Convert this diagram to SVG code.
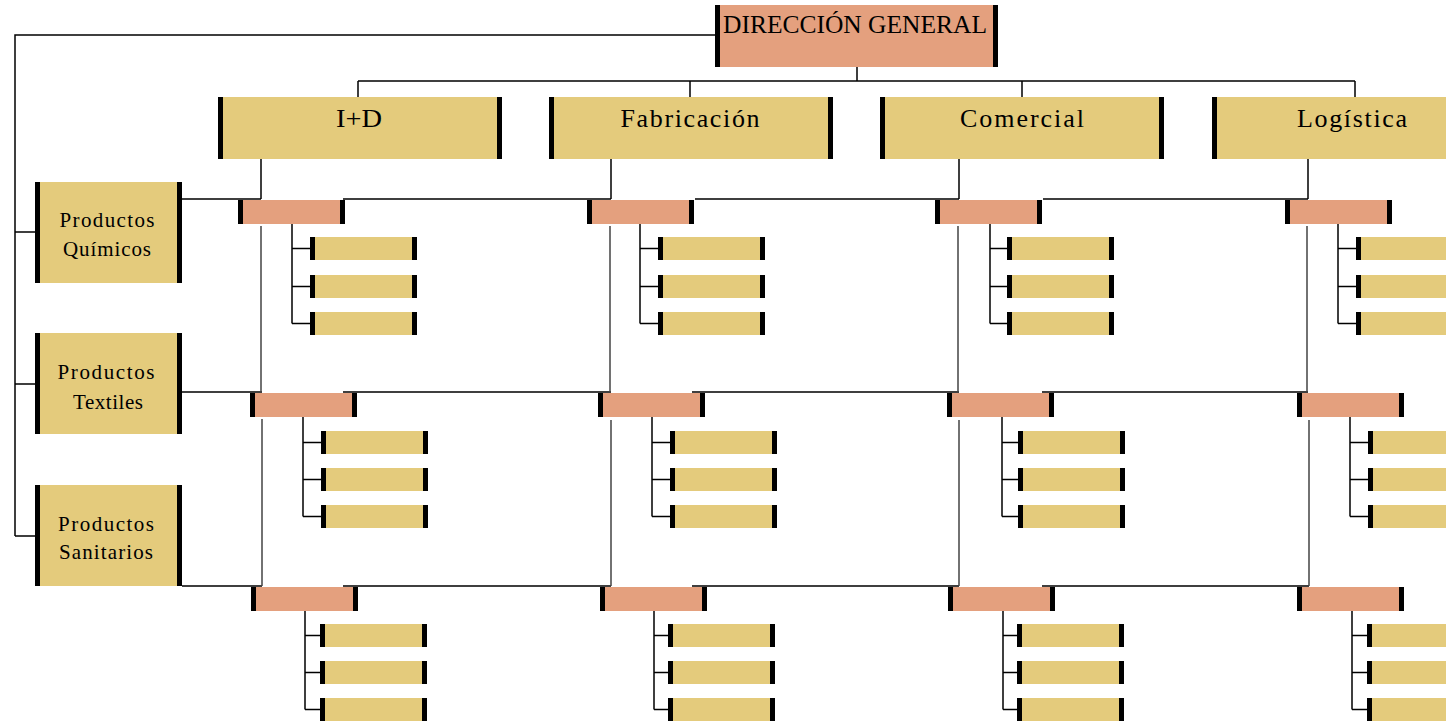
<svg xmlns="http://www.w3.org/2000/svg" xmlns:xlink="http://www.w3.org/1999/xlink" width="1446" height="726" viewBox="0 0 1446 726">
  <style>
    .gold { fill: #e4cb7c; }
    .salmon { fill: #e4a07e; }
    .bar { fill: #000; }
    .ln { fill: none; stroke: #000; stroke-width: 1.5; }
    .ln2 { fill: none; stroke: #444; stroke-width: 1.5; }
    .t { font-family: "Liberation Serif", "DejaVu Serif", serif; fill: #000; text-anchor: middle; }
    .t1 { font-size: 25px; }
    .t2 { font-size: 26px; }
    .t3 { font-size: 21px; }
  </style>
  <defs>
    <!-- small gold unit box with end bars -->
    <g id="sub">
      <rect class="gold" x="0" y="0" width="107" height="23"/>
      <rect class="bar" x="0" y="0" width="5" height="23"/>
      <rect class="bar" x="102" y="0" width="5" height="23"/>
    </g>
    <!-- salmon cross-point box -->
    <g id="mid">
      <rect class="salmon" x="0" y="0" width="107" height="24"/>
      <rect class="bar" x="0" y="0" width="5" height="24"/>
      <rect class="bar" x="102" y="0" width="5" height="24"/>
    </g>
    <!-- department box -->
    <g id="dept">
      <rect class="gold" x="0" y="0" width="284" height="62"/>
      <rect class="bar" x="0" y="0" width="5" height="62"/>
      <rect class="bar" x="279" y="0" width="5" height="62"/>
    </g>
    <!-- product line box -->
    <g id="prod">
      <rect class="gold" x="0" y="0" width="147" height="101"/>
      <rect class="bar" x="0" y="0" width="5" height="101"/>
      <rect class="bar" x="142" y="0" width="5" height="101"/>
    </g>
  </defs>

  <rect width="1446" height="726" fill="#fff"/>

  <g id="connectors">
    <!-- top level -->
    <path class="ln" d="M857 67 V81 M358 81 H1355 M358 81 V97 M690 81 V97 M1022 81 V97 M1355 81 V97"/>
    <path class="ln" d="M715 35 H15 V536 M15 232 H37 M15 384 H37 M15 536 H37"/>
    <!-- department stubs -->
    <path class="ln" d="M261 159 V199 M611 159 V199 M959 159 V199 M1308 159 V199"/>
    <!-- product rows -->
    <path class="ln" d="M182 199 H261 M343 199 H611 M695 199 H959 M1043 199 H1308"/>
    <path class="ln" d="M182 392 H262 M343 392 H611 M692 392 H959 M1042 392 H1308"/>
    <path class="ln" d="M182 586 H262 M343 586 H611 M692 586 H959 M1042 586 H1309"/>
    <!-- column verticals between rows -->
    <path class="ln2" d="M261 226 V392 M262 419 V586 M610 226 V392 M611 420 V586 M958 226 V392 M959 420 V586 M1307 226 V392 M1309 420 V586"/>
    <!-- sub-unit brackets, row 1 -->
    <path class="ln" d="M292 223 V323.5 M292 248.5 H312 M292 286.5 H312 M292 323.5 H312"/>
    <path class="ln" d="M640 223 V323.5 M640 248.5 H660 M640 286.5 H660 M640 323.5 H660"/>
    <path class="ln" d="M990 223 V323.5 M990 248.5 H1009 M990 286.5 H1009 M990 323.5 H1009"/>
    <path class="ln" d="M1338 223 V323.5 M1338 248.5 H1358 M1338 286.5 H1358 M1338 323.5 H1358"/>
    <!-- sub-unit brackets, row 2 -->
    <path class="ln" d="M303 417 V516.5 M303 442.5 H323 M303 479.5 H323 M303 516.5 H323"/>
    <path class="ln" d="M652 417 V516.5 M652 442.5 H672 M652 479.5 H672 M652 516.5 H672"/>
    <path class="ln" d="M1002 417 V516.5 M1002 442.5 H1020 M1002 479.5 H1020 M1002 516.5 H1020"/>
    <path class="ln" d="M1350 417 V516.5 M1350 442.5 H1370 M1350 479.5 H1370 M1350 516.5 H1370"/>
    <!-- sub-unit brackets, row 3 -->
    <path class="ln" d="M305 611 V709.5 M305 635.5 H322 M305 672.5 H322 M305 709.5 H322"/>
    <path class="ln" d="M654 611 V709.5 M654 635.5 H670 M654 672.5 H670 M654 709.5 H670"/>
    <path class="ln" d="M1003 611 V709.5 M1003 635.5 H1019 M1003 672.5 H1019 M1003 709.5 H1019"/>
    <path class="ln" d="M1352 611 V709.5 M1352 635.5 H1369 M1352 672.5 H1369 M1352 709.5 H1369"/>
  </g>

  <g id="direccion-general">
    <rect class="salmon" x="715" y="5" width="283" height="62"/>
    <rect class="bar" x="715" y="5" width="5" height="62"/>
    <rect class="bar" x="993" y="5" width="5" height="62"/>
    <text class="t t1" x="855" y="33" textLength="264" lengthAdjust="spacingAndGlyphs">DIRECCIÓN GENERAL</text>
  </g>

  <g id="dept-id">
    <use xlink:href="#dept" x="218" y="97"/>
    <text class="t t2" x="359" y="127" textLength="46" lengthAdjust="spacingAndGlyphs">I+D</text>
  </g>
  <g id="dept-fabricacion">
    <use xlink:href="#dept" x="549" y="97"/>
    <text class="t t2" x="690" y="127" textLength="139" lengthAdjust="spacing">Fabricación</text>
  </g>
  <g id="dept-comercial">
    <use xlink:href="#dept" x="880" y="97"/>
    <text class="t t2" x="1022" y="127" textLength="124" lengthAdjust="spacing">Comercial</text>
  </g>
  <g id="dept-logistica">
    <use xlink:href="#dept" x="1212" y="97"/>
    <text class="t t2" x="1352" y="127" textLength="110" lengthAdjust="spacing">Logística</text>
  </g>

  <g id="prod-quimicos">
    <use xlink:href="#prod" x="35" y="182"/>
    <text class="t t3" x="107" y="227" textLength="95" lengthAdjust="spacing">Productos</text>
    <text class="t t3" x="107" y="256" textLength="88" lengthAdjust="spacing">Químicos</text>
  </g>
  <g id="prod-textiles">
    <use xlink:href="#prod" x="35" y="333"/>
    <text class="t t3" x="106" y="379" textLength="97" lengthAdjust="spacing">Productos</text>
    <text class="t t3" x="108" y="409" textLength="70" lengthAdjust="spacing">Textiles</text>
  </g>
  <g id="prod-sanitarios">
    <use xlink:href="#prod" x="35" y="485"/>
    <text class="t t3" x="106" y="531" textLength="96" lengthAdjust="spacing">Productos</text>
    <text class="t t3" x="106" y="559" textLength="94" lengthAdjust="spacing">Sanitarios</text>
  </g>

  <!-- cross points: product line x department -->
  <g id="x-quimicos-id"><use xlink:href="#mid" x="238" y="200"/></g>
  <g id="x-quimicos-fab"><use xlink:href="#mid" x="587" y="200"/></g>
  <g id="x-quimicos-com"><use xlink:href="#mid" x="935" y="200"/></g>
  <g id="x-quimicos-log"><use xlink:href="#mid" x="1285" y="200"/></g>
  <g id="x-textiles-id"><use xlink:href="#mid" x="250" y="393"/></g>
  <g id="x-textiles-fab"><use xlink:href="#mid" x="598" y="393"/></g>
  <g id="x-textiles-com"><use xlink:href="#mid" x="947" y="393"/></g>
  <g id="x-textiles-log"><use xlink:href="#mid" x="1297" y="393"/></g>
  <g id="x-sanitarios-id"><use xlink:href="#mid" x="251" y="587"/></g>
  <g id="x-sanitarios-fab"><use xlink:href="#mid" x="600" y="587"/></g>
  <g id="x-sanitarios-com"><use xlink:href="#mid" x="948" y="587"/></g>
  <g id="x-sanitarios-log"><use xlink:href="#mid" x="1297" y="587"/></g>

  <!-- sub-units, row 1 -->
  <g id="u-q-id-1"><use xlink:href="#sub" x="310" y="237"/></g>
  <g id="u-q-id-2"><use xlink:href="#sub" x="310" y="275"/></g>
  <g id="u-q-id-3"><use xlink:href="#sub" x="310" y="312"/></g>
  <g id="u-q-fab-1"><use xlink:href="#sub" x="658" y="237"/></g>
  <g id="u-q-fab-2"><use xlink:href="#sub" x="658" y="275"/></g>
  <g id="u-q-fab-3"><use xlink:href="#sub" x="658" y="312"/></g>
  <g id="u-q-com-1"><use xlink:href="#sub" x="1007" y="237"/></g>
  <g id="u-q-com-2"><use xlink:href="#sub" x="1007" y="275"/></g>
  <g id="u-q-com-3"><use xlink:href="#sub" x="1007" y="312"/></g>
  <g id="u-q-log-1"><use xlink:href="#sub" x="1356" y="237"/></g>
  <g id="u-q-log-2"><use xlink:href="#sub" x="1356" y="275"/></g>
  <g id="u-q-log-3"><use xlink:href="#sub" x="1356" y="312"/></g>
  <!-- sub-units, row 2 -->
  <g id="u-t-id-1"><use xlink:href="#sub" x="321" y="431"/></g>
  <g id="u-t-id-2"><use xlink:href="#sub" x="321" y="468"/></g>
  <g id="u-t-id-3"><use xlink:href="#sub" x="321" y="505"/></g>
  <g id="u-t-fab-1"><use xlink:href="#sub" x="670" y="431"/></g>
  <g id="u-t-fab-2"><use xlink:href="#sub" x="670" y="468"/></g>
  <g id="u-t-fab-3"><use xlink:href="#sub" x="670" y="505"/></g>
  <g id="u-t-com-1"><use xlink:href="#sub" x="1018" y="431"/></g>
  <g id="u-t-com-2"><use xlink:href="#sub" x="1018" y="468"/></g>
  <g id="u-t-com-3"><use xlink:href="#sub" x="1018" y="505"/></g>
  <g id="u-t-log-1"><use xlink:href="#sub" x="1368" y="431"/></g>
  <g id="u-t-log-2"><use xlink:href="#sub" x="1368" y="468"/></g>
  <g id="u-t-log-3"><use xlink:href="#sub" x="1368" y="505"/></g>
  <!-- sub-units, row 3 -->
  <g id="u-s-id-1"><use xlink:href="#sub" x="320" y="624"/></g>
  <g id="u-s-id-2"><use xlink:href="#sub" x="320" y="661"/></g>
  <g id="u-s-id-3"><use xlink:href="#sub" x="320" y="698"/></g>
  <g id="u-s-fab-1"><use xlink:href="#sub" x="668" y="624"/></g>
  <g id="u-s-fab-2"><use xlink:href="#sub" x="668" y="661"/></g>
  <g id="u-s-fab-3"><use xlink:href="#sub" x="668" y="698"/></g>
  <g id="u-s-com-1"><use xlink:href="#sub" x="1017" y="624"/></g>
  <g id="u-s-com-2"><use xlink:href="#sub" x="1017" y="661"/></g>
  <g id="u-s-com-3"><use xlink:href="#sub" x="1017" y="698"/></g>
  <g id="u-s-log-1"><use xlink:href="#sub" x="1367" y="624"/></g>
  <g id="u-s-log-2"><use xlink:href="#sub" x="1367" y="661"/></g>
  <g id="u-s-log-3"><use xlink:href="#sub" x="1367" y="698"/></g>
</svg>
